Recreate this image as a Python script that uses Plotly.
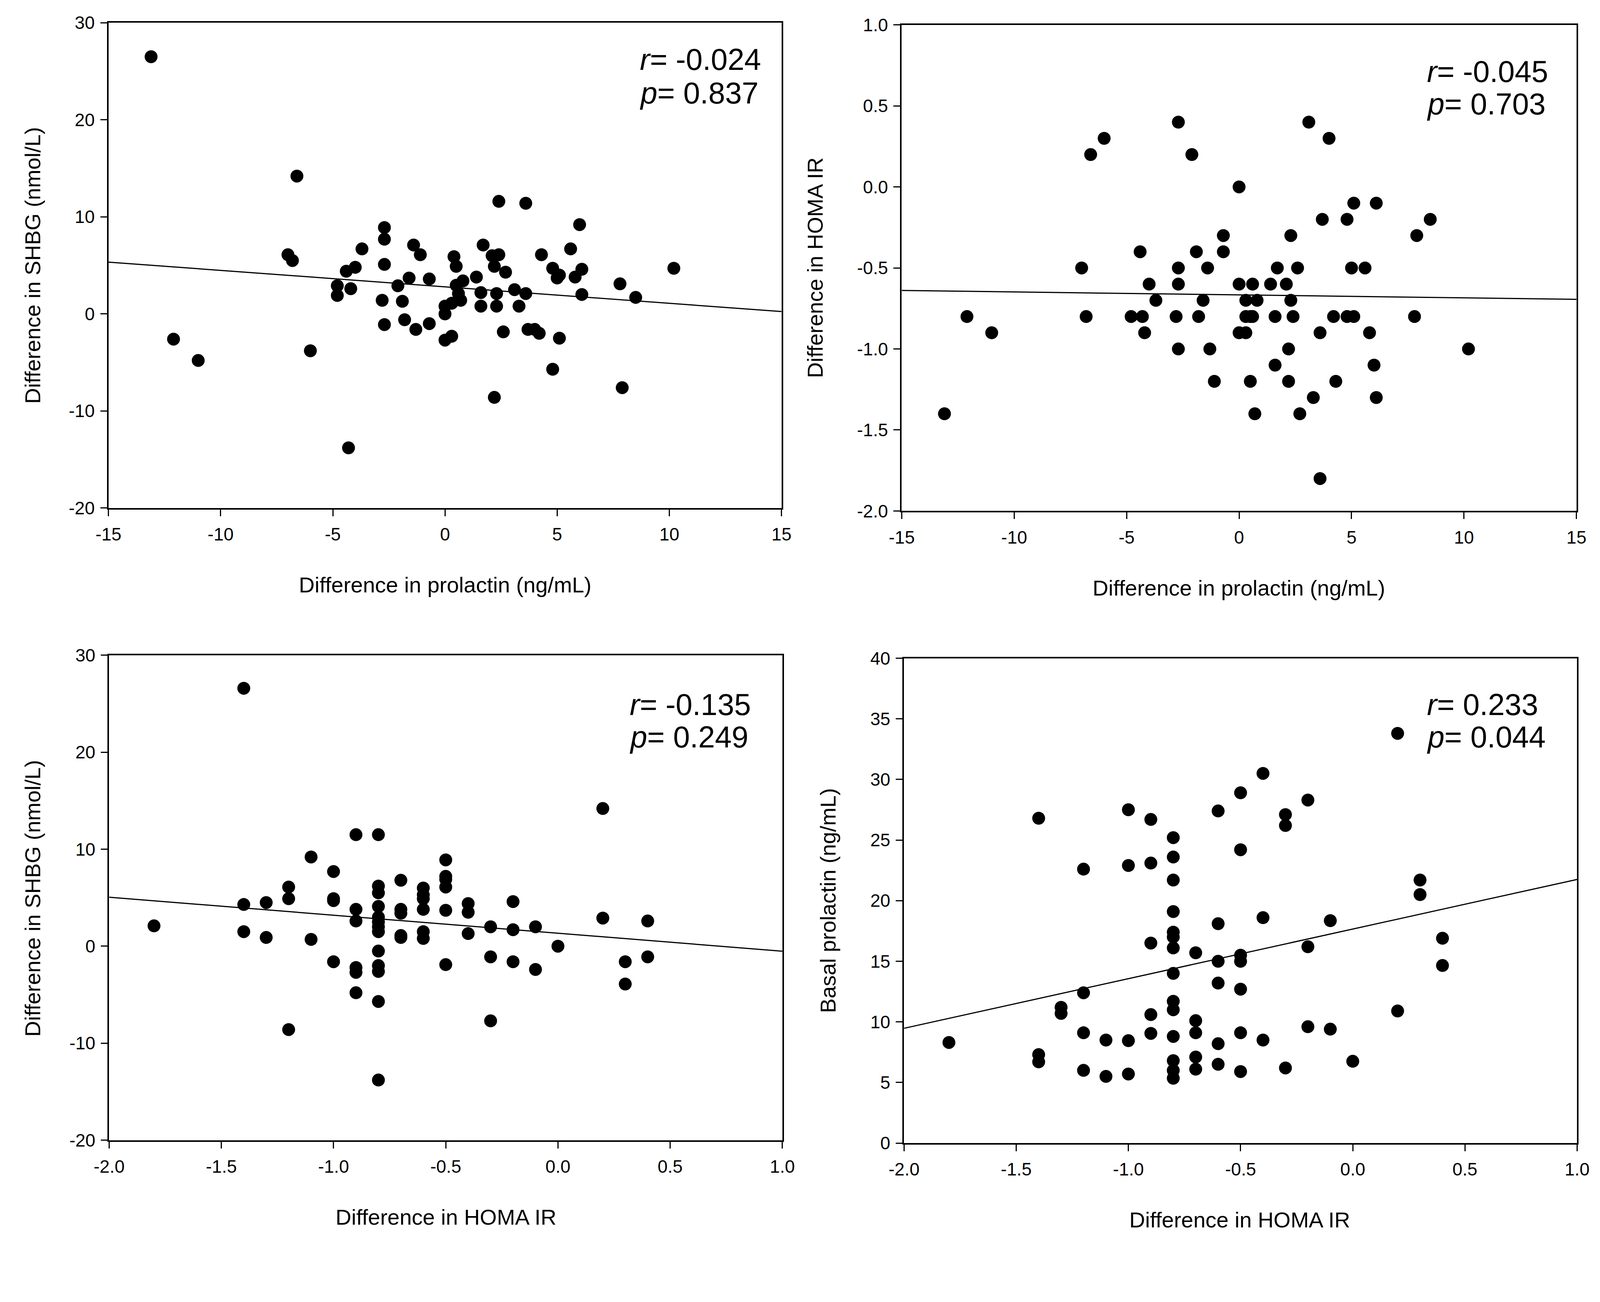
import numpy as np
import plotly.graph_objects as go

# top left: difference in prolactin vs difference in SHBG
prl_diff_a = [-13.1, -6.6, 2.4, 3.6, 6.0, -2.7, -2.7, 1.7, -1.4, -3.7,
              5.6, -1.1, -7.0, -6.8, 2.1, 2.4, 4.3, 0.4, 0.5, 2.2,
              -2.7, -4.0, -4.4, 10.2, 4.8, 6.1, 2.7, 5.1, 5.0, 5.8,
              -1.6, -0.7, 1.4, 0.8, 0.5, -2.1, -4.8, -4.2, 7.8, 3.1,
              1.6, 2.3, 3.6, 6.1, 8.5, -4.8, 0.6, 0.7, -2.8, -1.9,
              0.3, 0.0, 1.6, 2.3, 3.3, 0.0, -2.7, -1.8, -0.7, -1.3,
              2.6, 3.7, 4.0, 4.2, 0.3, 0.0, 5.1, -12.1, -6.0, -11.0,
              4.8, 7.9, 2.2, -4.3]
shbg_diff_a = [26.5, 14.2, 11.6, 11.4, 9.2, 8.9, 7.7, 7.1, 7.1, 6.7,
               6.7, 6.1, 6.1, 5.5, 6.0, 6.1, 6.1, 5.9, 4.9, 4.9,
               5.1, 4.8, 4.4, 4.7, 4.7, 4.6, 4.3, 4.0, 3.7, 3.8,
               3.7, 3.6, 3.8, 3.4, 2.95, 2.9, 2.9, 2.6, 3.1, 2.5,
               2.2, 2.1, 2.1, 2.0, 1.7, 1.9, 2.1, 1.4, 1.4, 1.3,
               1.1, 0.8, 0.8, 0.8, 0.8, 0.0, -1.1, -0.6, -1.0, -1.6,
               -1.85, -1.6, -1.6, -2.0, -2.3, -2.7, -2.5, -2.6, -3.8, -4.8,
               -5.7, -7.6, -8.6, -13.8]

# top right: difference in prolactin vs difference in HOMA IR
prl_diff_b = [-13.1, -12.1, -11.0, -7.0, -6.8, -6.6, -6.0, -4.8, -4.4, -4.3,
              -4.2, -4.0, -3.7, -2.8, -2.7, -2.7, -2.7, -2.7, -2.1, -1.9,
              -1.8, -1.6, -1.4, -1.3, -1.1, -0.7, -0.7, 0.0, 0.0, 0.0,
              0.3, 0.3, 0.3, 0.5, 0.5, 0.6, 0.6, 0.7, 0.8, 1.4,
              1.6, 1.6, 1.7, 2.1, 2.2, 2.2, 2.3, 2.3, 2.4, 2.6,
              2.7, 3.1, 3.3, 3.6, 3.6, 3.7, 4.0, 4.2, 4.3, 4.8,
              4.8, 5.0, 5.1, 5.1, 5.6, 5.8, 6.0, 6.1, 6.1, 7.8,
              7.9, 8.5, 10.2]
homa_diff_b = [-1.4, -0.8, -0.9, -0.5, -0.8, 0.2, 0.3, -0.8, -0.4, -0.8,
               -0.9, -0.6, -0.7, -0.8, 0.4, -0.5, -0.6, -1.0, 0.2, -0.4,
               -0.8, -0.7, -0.5, -1.0, -1.2, -0.3, -0.4, 0.0, -0.6, -0.9,
               -0.7, -0.8, -0.9, -0.8, -1.2, -0.6, -0.8, -1.4, -0.7, -0.6,
               -0.8, -1.1, -0.5, -0.6, -1.0, -1.2, -0.3, -0.7, -0.8, -0.5,
               -1.4, 0.4, -1.3, -0.9, -1.8, -0.2, 0.3, -0.8, -1.2, -0.2,
               -0.8, -0.5, -0.1, -0.8, -0.5, -0.9, -1.1, -0.1, -1.3, -0.8,
               -0.3, -0.2, -1.0]

# bottom left: difference in HOMA IR vs difference in SHBG
homa_diff_c = [-1.8, -1.4, -1.4, -1.4, -1.3, -1.3, -1.2, -1.2, -1.2, -1.1, -1.1,
               -1.0, -1.0, -1.0, -1.0, -0.9, -0.9, -0.9, -0.9, -0.9, -0.9,
               -0.8, -0.8, -0.8, -0.8, -0.8, -0.8, -0.8, -0.8, -0.8, -0.8, -0.8, -0.8, -0.8,
               -0.7, -0.7, -0.7, -0.7, -0.7, -0.6, -0.6, -0.6, -0.6, -0.6, -0.6,
               -0.5, -0.5, -0.5, -0.5, -0.5, -0.5, -0.4, -0.4, -0.4,
               -0.3, -0.3, -0.3, -0.2, -0.2, -0.2, -0.1, -0.1, 0.0,
               0.2, 0.2, 0.3, 0.3, 0.4, 0.4]
shbg_diff_c = [2.1, 26.6, 4.3, 1.5, 4.5, 0.9, 6.1, 4.9, -8.6, 9.2, 0.7,
               7.7, 4.9, 4.7, -1.6, 11.5, 3.8, 2.6, -2.2, -2.7, -4.8,
               11.5, 6.2, 5.5, 4.1, 3.0, 2.5, 2.0, 1.5, -0.5, -2.0, -2.6, -5.7, -13.8,
               6.8, 3.8, 3.4, 1.1, 0.9, 6.0, 5.3, 4.9, 3.8, 1.5, 0.8,
               8.9, 7.2, 6.9, 6.1, 3.7, -1.9, 4.4, 3.5, 1.3,
               2.0, -1.1, -7.7, 4.6, 1.7, -1.6, 2.0, -2.4, 0.0,
               14.2, 2.9, -1.6, -3.9, 2.6, -1.1]

# bottom right: difference in HOMA IR vs basal prolactin
homa_diff_d = [-1.8, -1.4, -1.4, -1.4, -1.3, -1.3, -1.2, -1.2, -1.2, -1.2,
               -1.1, -1.1, -1.0, -1.0, -1.0, -1.0, -0.9, -0.9, -0.9, -0.9, -0.9,
               -0.8, -0.8, -0.8, -0.8, -0.8, -0.8, -0.8, -0.8, -0.8, -0.8, -0.8, -0.8, -0.8, -0.8,
               -0.7, -0.7, -0.7, -0.7, -0.7, -0.6, -0.6, -0.6, -0.6, -0.6, -0.6,
               -0.5, -0.5, -0.5, -0.5, -0.5, -0.5, -0.5, -0.4, -0.4, -0.4,
               -0.3, -0.3, -0.3, -0.2, -0.2, -0.2, -0.1, -0.1, 0.0,
               0.2, 0.2, 0.3, 0.3, 0.4, 0.4]
basal_prl_d = [8.3, 26.8, 7.3, 6.7, 11.2, 10.7, 22.6, 12.4, 9.1, 6.0,
               8.5, 5.5, 27.5, 22.9, 8.45, 5.7, 26.7, 23.1, 16.5, 10.6, 9.05,
               25.2, 23.6, 21.7, 19.1, 17.4, 17.0, 16.1, 14.0, 11.7, 11.0, 8.8, 6.8, 6.0, 5.35,
               15.7, 10.1, 9.1, 7.1, 6.1, 27.4, 18.1, 15.0, 13.2, 8.2, 6.5,
               28.9, 24.2, 15.5, 15.0, 12.7, 9.1, 5.9, 30.5, 18.6, 8.5,
               27.1, 26.2, 6.2, 28.3, 16.2, 9.6, 18.35, 9.4, 6.75,
               33.8, 10.9, 21.7, 20.5, 16.9, 14.65]

r_values = ["-0.024", "-0.045", "-0.135", "0.233"]
p_values = ["0.837", "0.703", "0.249", "0.044"]

prl_ticks = [-15, -10, -5, 0, 5, 10, 15]
shbg_ticks = [-20, -10, 0, 10, 20, 30]
homa_ticks = [-2.0, -1.5, -1.0, -0.5, 0.0, 0.5, 1.0]
basal_ticks = [0, 5, 10, 15, 20, 25, 30, 35, 40]

FONT = "Liberation Sans, Arial, sans-serif"


def labels(vals, fmt):
    # plain hyphen minus like the original figure
    return [format(v, fmt) for v in vals]


panels = [
    dict(x=prl_diff_a, y=shbg_diff_a, xt=prl_ticks, xf="d", yt=shbg_ticks, yf="d",
         xtitle="Difference in prolactin (ng/mL)", ytitle="Difference in SHBG (nmol/L)",
         xdom=[0.0544, 0.4625], ydom=[0.6140, 0.9926],
         stat_x=0.3761, r_y=0.9641, p_y=0.9379, xt_pos=(0.2585, 0.5541), yt_pos=(0.0084, 0.8033)),
    dict(x=prl_diff_b, y=homa_diff_b, xt=prl_ticks, xf="d", yt=homa_ticks, yf=".1f",
         xtitle="Difference in prolactin (ng/mL)", ytitle="Difference in HOMA IR",
         xdom=[0.5354, 0.9445], ydom=[0.6117, 0.9909],
         stat_x=0.8533, r_y=0.9545, p_y=0.9292, xt_pos=(0.7399, 0.5515), yt_pos=(0.4827, 0.8016)),
    dict(x=homa_diff_c, y=shbg_diff_c, xt=homa_ticks, xf=".1f", yt=shbg_ticks, yf="d",
         xtitle="Difference in HOMA IR", ytitle="Difference in SHBG (nmol/L)",
         xdom=[0.0548, 0.4630], ydom=[0.1208, 0.4991],
         stat_x=0.3700, r_y=0.4607, p_y=0.4354, xt_pos=(0.2589, 0.0609), yt_pos=(0.0084, 0.3095)),
    dict(x=homa_diff_d, y=basal_prl_d, xt=homa_ticks, xf=".1f", yt=basal_ticks, yf="d",
         xtitle="Difference in HOMA IR", ytitle="Basal prolactin (ng/mL)",
         xdom=[0.5368, 0.9449], ydom=[0.1185, 0.4968],
         stat_x=0.8533, r_y=0.4607, p_y=0.4354, xt_pos=(0.7404, 0.0586), yt_pos=(0.4908, 0.3078)),
]

fig = go.Figure()
annotations = []
axis_style = dict(showline=True, mirror=True, linecolor="black", linewidth=4,
                  ticks="outside", ticklen=17, tickwidth=3, tickcolor="black",
                  showgrid=False, zeroline=False,
                  tickfont=dict(family=FONT, size=46, color="black"))

for i, p in enumerate(panels):
    n = "" if i == 0 else str(i + 1)
    xa, ya = "x" + n, "y" + n
    xr = [p["xt"][0], p["xt"][-1]]
    yr = [p["yt"][0], p["yt"][-1]]
    fig.add_trace(go.Scatter(x=p["x"], y=p["y"], mode="markers", xaxis=xa, yaxis=ya,
                             marker=dict(size=33, color="black", line=dict(width=0)),
                             showlegend=False, hoverinfo="x+y"))
    # least squares line across the full x range
    slope, intercept = np.polyfit(p["x"], p["y"], 1)
    lx = np.array(xr, dtype=float)
    fig.add_trace(go.Scatter(x=lx, y=slope * lx + intercept, mode="lines", xaxis=xa, yaxis=ya,
                             line=dict(color="black", width=3), showlegend=False, hoverinfo="skip"))
    fig.layout["xaxis" + n] = dict(axis_style, domain=p["xdom"], anchor=ya, range=xr,
                                   tickmode="array", tickvals=p["xt"],
                                   ticktext=labels(p["xt"], p["xf"]), ticklabelstandoff=7)
    fig.layout["yaxis" + n] = dict(axis_style, domain=p["ydom"], anchor=xa, range=yr,
                                   tickmode="array", tickvals=p["yt"],
                                   ticktext=labels(p["yt"], p["yf"]), ticklabelstandoff=5)
    annotations += [
        dict(text="<i>r</i>= " + r_values[i], x=p["stat_x"], y=p["r_y"]),
        dict(text="<i>p</i>= " + p_values[i], x=p["stat_x"], y=p["p_y"]),
        dict(text=p["xtitle"], x=p["xt_pos"][0], y=p["xt_pos"][1], xanchor="center",
             font=dict(family=FONT, size=56, color="black")),
        dict(text=p["ytitle"], x=p["yt_pos"][0], y=p["yt_pos"][1], xanchor="center", textangle=-90,
             font=dict(family=FONT, size=56, color="black")),
    ]

for a in annotations:
    a.setdefault("xanchor", "left")
    a.setdefault("font", dict(family=FONT, size=77, color="black"))
    a.update(xref="paper", yref="paper", yanchor="middle", showarrow=False)

fig.update_layout(width=4294, height=3334, margin=dict(l=0, r=0, t=0, b=0),
                  paper_bgcolor="white", plot_bgcolor="white",
                  font=dict(family=FONT, color="black"), annotations=annotations)

fig.write_html("out.html")
